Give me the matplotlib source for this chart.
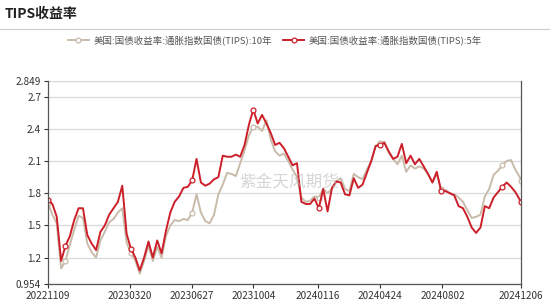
import pandas as pd
import matplotlib
matplotlib.use("Agg")
import matplotlib.pyplot as plt
import matplotlib.dates as mdates

plt.rcParams['font.family'] = ['Noto Sans CJK SC', 'DejaVu Sans']

# 周度取样的日期
dates = list(pd.date_range("2022-11-09", "2024-12-04", freq="7D")) + [pd.Timestamp("2024-12-06")]

# 10年期 TIPS
tips_10y = [1.71, 1.60, 1.52, 1.10, 1.17, 1.32, 1.46, 1.59, 1.57, 1.33,
            1.25, 1.20, 1.36, 1.44, 1.53, 1.56, 1.62, 1.66, 1.34, 1.24,
            1.17, 1.05, 1.17, 1.31, 1.17, 1.30, 1.20, 1.40, 1.50, 1.55,
            1.54, 1.56, 1.55, 1.62, 1.79, 1.62, 1.54, 1.52, 1.60, 1.79,
            1.88, 1.99, 1.98, 1.96, 2.08, 2.20, 2.34, 2.42, 2.42, 2.38,
            2.48, 2.30, 2.19, 2.15, 2.17, 2.10, 2.02, 1.95, 1.76, 1.72,
            1.73, 1.77, 1.76, 1.84, 1.80, 1.84, 1.91, 1.94, 1.84, 1.82,
            1.98, 1.95, 1.93, 2.02, 2.10, 2.24, 2.27, 2.28, 2.18, 2.12,
            2.07, 2.15, 2.00, 2.06, 2.03, 2.05, 2.03, 1.98, 1.90, 1.98,
            1.84, 1.83, 1.80, 1.79, 1.76, 1.72, 1.64, 1.57, 1.58, 1.60,
            1.77, 1.84, 1.97, 2.01, 2.06, 2.10, 2.11, 2.02, 1.95, 1.91]

# 5年期 TIPS
tips_5y = [1.74, 1.70, 1.58, 1.17, 1.31, 1.40, 1.55, 1.66, 1.66, 1.41,
           1.33, 1.27, 1.44, 1.50, 1.60, 1.66, 1.72, 1.87, 1.42, 1.28,
           1.20, 1.08, 1.20, 1.35, 1.20, 1.36, 1.24, 1.45, 1.62, 1.72,
           1.77, 1.85, 1.86, 1.92, 2.12, 1.90, 1.87, 1.89, 1.93, 1.95,
           2.15, 2.14, 2.14, 2.16, 2.14, 2.25, 2.44, 2.58, 2.45, 2.53,
           2.45, 2.36, 2.25, 2.27, 2.22, 2.14, 2.06, 2.08, 1.72, 1.70,
           1.70, 1.75, 1.66, 1.84, 1.63, 1.85, 1.91, 1.90, 1.79, 1.78,
           1.94, 1.85, 1.88, 1.99, 2.10, 2.24, 2.25, 2.27, 2.19, 2.12,
           2.14, 2.26, 2.08, 2.15, 2.07, 2.12, 2.05, 1.98, 1.90, 2.00,
           1.82, 1.82, 1.80, 1.78, 1.68, 1.66, 1.58, 1.48, 1.43, 1.48,
           1.68, 1.66, 1.76, 1.81, 1.86, 1.90, 1.86, 1.81, 1.74, 1.72]

label_dates = ["20221109", "20230320", "20230627", "20231004",
               "20240116", "20240424", "20240802", "20241206"]
# 带圆点的位置（含被隐藏的标签）
marker_dates = ["20221109", "20221209", "20230320", "20230627", "20231004",
                "20240116", "20240424", "20240802", "20241108", "20241206"]
y_ticks = [0.954, 1.2, 1.5, 1.8, 2.1, 2.4, 2.7, 2.849]

names = ["美国:国债收益率:通胀指数国债(TIPS):10年", "美国:国债收益率:通胀指数国债(TIPS):5年"]
colors = ["#c8bbaa", "#cc1f2a"]

df = pd.DataFrame({"d": dates, "y10": tips_10y, "y5": tips_5y})
mk_idx = [int((df["d"] - pd.Timestamp(m)).abs().idxmin()) for m in marker_dates]

fig = plt.figure(figsize=(5.5, 3.03), dpi=100)
ax = fig.add_axes([0.0873, 0.0627, 0.86, 0.671])

for col, name, c in [("y10", names[0], colors[0]), ("y5", names[1], colors[1])]:
    ax.plot(df["d"], df[col], color=c, linewidth=1.4, label=name,
            marker="o", markevery=mk_idx, markersize=3.5,
            markerfacecolor="white", markeredgecolor=c, markeredgewidth=0.9)

ax.set_xlim(dates[0], dates[-1])
ax.set_ylim(y_ticks[0], y_ticks[-1])
ax.set_yticks(y_ticks)
ax.set_yticklabels([str(v) for v in y_ticks])
ax.set_xticks([pd.Timestamp(d) for d in label_dates])
ax.set_xticklabels(label_dates)
ax.tick_params(axis="both", labelsize=7.2, colors="#333333", length=3, width=0.8)
ax.tick_params(axis="x", pad=2)
ax.tick_params(axis="y", pad=2)
ax.grid(axis="y", color="#d9d9d9", linewidth=0.9)
ax.set_axisbelow(True)
ax.axhline(y_ticks[-1], color="#d9d9d9", linewidth=0.9, zorder=0)
for s in ["left", "right", "bottom"]:
    ax.spines[s].set_color("#555555")
    ax.spines[s].set_linewidth(0.9)
ax.spines["top"].set_visible(False)

ax.text(0.51, 0.5, "紫金天风期货", transform=ax.transAxes, fontsize=12,
        color="#bbbbbb", alpha=0.6, ha="center", va="center", zorder=5)

fig.text(0.008, 0.955, "TIPS收益率", fontsize=10, fontweight="bold", color="#222222",
         ha="left", va="center")
fig.add_artist(plt.Line2D([0, 1], [0.903, 0.903], color="#cccccc", linewidth=0.8))

leg = fig.legend(loc="center", bbox_to_anchor=(0.5, 0.868), ncol=2, frameon=False,
                 fontsize=6.8, handlelength=2.2, columnspacing=1.2, handletextpad=0.5)
for t in leg.get_texts():
    t.set_color("#555555")

fig.savefig("out.png", dpi=100)
